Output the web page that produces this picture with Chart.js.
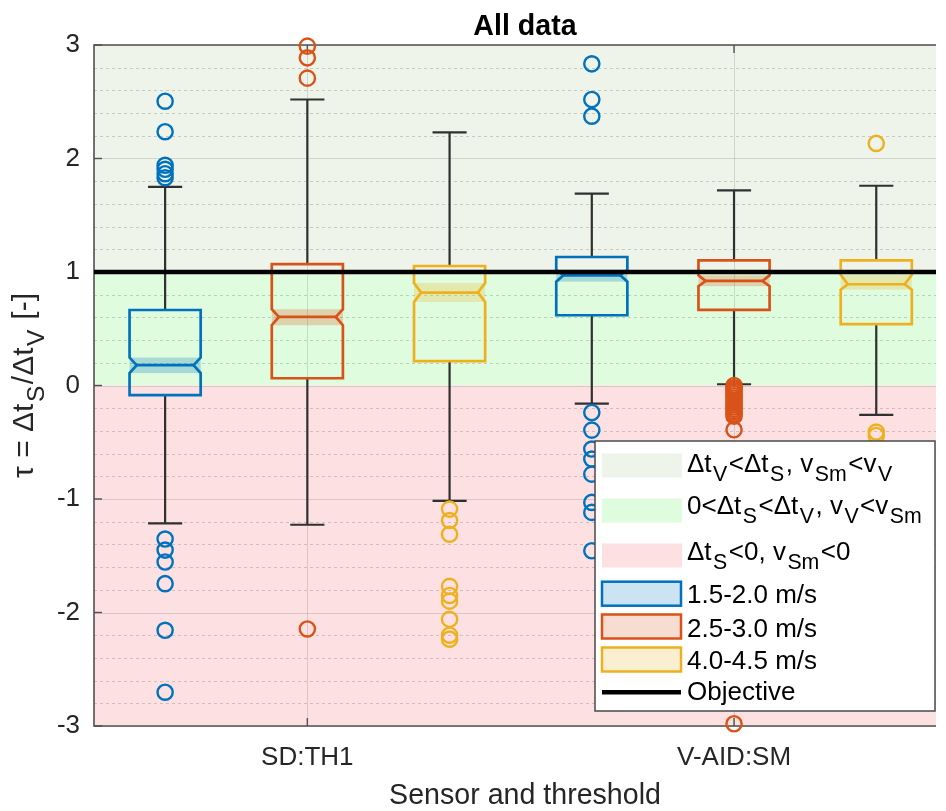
<!DOCTYPE html>
<html>
<head>
<meta charset="utf-8">
<style>
  html, body { margin: 0; padding: 0; background: #fff; }
  canvas { display: block; }
</style>
<script src="https://cdn.jsdelivr.net/npm/chart.js@4.4.1/dist/chart.umd.min.js"></script>
</head>
<body>
<canvas id="chart" width="946" height="811"></canvas>
<script>
// ---- data ----
const CATEGORIES = ['SD:TH1', 'V-AID:SM'];
const SPEEDS = ['1.5-2.0 m/s', '2.5-3.0 m/s', '4.0-4.5 m/s'];

// one value per box: SD:TH1 (3 speeds), then V-AID:SM (3 speeds)
const WHISKER_HI = [1.75, 2.52, 2.23, 1.69, 1.72, 1.76];
const Q3         = [0.665, 1.07, 1.053, 1.132, 1.103, 1.103];
const NOTCH_HI   = [0.246, 0.672, 0.903, 1.02, 0.97, 0.975];
const MEDIAN     = [0.179, 0.604, 0.819, 0.971, 0.921, 0.892];
const NOTCH_LO   = [0.109, 0.531, 0.736, 0.915, 0.875, 0.845];
const Q1         = [-0.085, 0.064, 0.214, 0.619, 0.666, 0.54];
const WHISKER_LO = [-1.215, -1.227, -1.016, -0.16, 0.011, -0.259];

const OUT_SD_1 = [2.505, 2.236, 1.94, 1.905, 1.866, 1.831, -1.353, -1.45, -1.555, -1.746, -2.157, -2.702];
const OUT_SD_2 = [2.99, 2.887, 2.708, -2.145];
const OUT_SD_3 = [-1.089, -1.19, -1.31, -1.77, -1.85, -1.9, -2.06, -2.2, -2.235];
const OUT_VA_1 = [2.834, 2.52, 2.373, -0.238, -0.393, -0.56, -0.648, -0.781, -1.03, -1.118, -1.456];
const OUT_VA_2 = [0.0, -0.02, -0.03, -0.05, -0.07, -0.09, -0.11, -0.13, -0.15, -0.17, -0.19, -0.21, -0.23, -0.25, -0.27, -0.39, -2.98];
const OUT_VA_3 = [2.133, -0.41, -0.44];
const OUTLIERS = [OUT_SD_1, OUT_SD_2, OUT_SD_3, OUT_VA_1, OUT_VA_2, OUT_VA_3];

// shaded tau regions and the objective line
const REGION_LO = [1, 0, -3];
const REGION_HI = [3, 1, 0];
const OBJECTIVE = 1;

// ---- styling ----
const FONT = '"Liberation Sans", Arial, Helvetica, sans-serif';
const TEXT = '#262626';
const SPEED_COLORS = ['#0072BD', '#D95319', '#EDB120'];
const REGION_COLORS = ['#eef4e9', '#dffcdf', '#fde1e2'];
const X_MIN = 0.5, X_MAX = 6.42;
const BOX_HALF = 0.25, CAP_HALF = 0.12, NOTCH_INSET = 0.2;

Chart.defaults.font.family = FONT;

// box i sits at x = category * 3 + speed + 1
const boxX = i => i + 1;
const catX = c => c * 3 + 2;
const TICK_POS = CATEGORIES.map((_, c) => catX(c));

function rgba(hex, a) {
  const n = parseInt(hex.slice(1), 16);
  return `rgba(${n >> 16},${(n >> 8) & 255},${n & 255},${a})`;
}

// text with subscripts: parts = [[text, isSub], ...]
const SUB_SCALE = 0.82, SUB_DROP = 0.36, SUB_GAP = 1.5;
function richWidth(ctx, parts, size) {
  let w = 0;
  parts.forEach(([t, sub]) => {
    ctx.font = `${sub ? size * SUB_SCALE : size}px ${FONT}`;
    w += ctx.measureText(t).width + (sub ? 2 * SUB_GAP : 0);
  });
  return w;
}
function drawRich(ctx, parts, x, y, size) {
  ctx.textAlign = 'left';
  ctx.textBaseline = 'alphabetic';
  parts.forEach(([t, sub]) => {
    ctx.font = `${sub ? size * SUB_SCALE : size}px ${FONT}`;
    if (sub) x += SUB_GAP;
    ctx.fillText(t, x, sub ? y + size * SUB_DROP : y);
    x += ctx.measureText(t).width + (sub ? SUB_GAP : 0);
  });
}

const matlabLook = {
  id: 'matlabLook',
  beforeDraw(chart) {
    const { ctx, chartArea: a, scales: { y } } = chart;
    ctx.save();
    REGION_LO.forEach((lo, i) => {
      const top = y.getPixelForValue(REGION_HI[i]);
      const bot = y.getPixelForValue(lo);
      ctx.fillStyle = REGION_COLORS[i];
      ctx.fillRect(a.left, top, a.right - a.left, bot - top);
    });
    ctx.restore();
  },
  beforeDatasetsDraw(chart) {
    const { ctx, chartArea: a, scales: { x, y } } = chart;
    ctx.save();
    // minor grid
    ctx.strokeStyle = 'rgba(38,38,38,0.2)';
    ctx.lineWidth = 1;
    ctx.setLineDash([3, 3]);
    for (let k = 1; k < 30; k++) {
      if (k % 5 === 0) continue;
      const py = Math.round(y.getPixelForValue(y.min + k * 0.2)) + 0.5;
      ctx.beginPath(); ctx.moveTo(a.left, py); ctx.lineTo(a.right, py); ctx.stroke();
    }
    ctx.setLineDash([]);
    // major grid
    ctx.strokeStyle = 'rgba(38,38,38,0.15)';
    y.ticks.forEach(t => {
      const py = Math.round(y.getPixelForValue(t.value)) + 0.5;
      ctx.beginPath(); ctx.moveTo(a.left, py); ctx.lineTo(a.right, py); ctx.stroke();
    });
    x.ticks.forEach(t => {
      const px = Math.round(x.getPixelForValue(t.value)) + 0.5;
      ctx.beginPath(); ctx.moveTo(px, a.top); ctx.lineTo(px, a.bottom); ctx.stroke();
    });
    // axes lines + inward ticks
    ctx.strokeStyle = '#505050';
    ctx.lineWidth = 1.6;
    ctx.beginPath();
    ctx.moveTo(a.right, a.top); ctx.lineTo(a.left, a.top);
    ctx.lineTo(a.left, a.bottom); ctx.lineTo(a.right, a.bottom);
    ctx.stroke();
    ctx.lineWidth = 1.4;
    y.ticks.forEach(t => {
      const py = y.getPixelForValue(t.value);
      ctx.beginPath(); ctx.moveTo(a.left, py); ctx.lineTo(a.left + 8, py); ctx.stroke();
    });
    x.ticks.forEach(t => {
      const px = x.getPixelForValue(t.value);
      ctx.beginPath(); ctx.moveTo(px, a.bottom); ctx.lineTo(px, a.bottom - 8); ctx.stroke();
      ctx.beginPath(); ctx.moveTo(px, a.top); ctx.lineTo(px, a.top + 8); ctx.stroke();
    });

    // boxes
    MEDIAN.forEach((med, i) => {
      const color = SPEED_COLORS[i % 3];
      const cx = x.getPixelForValue(boxX(i));
      const hw = x.getPixelForValue(boxX(i) + BOX_HALF) - cx;
      const cw = x.getPixelForValue(boxX(i) + CAP_HALF) - cx;
      const L = cx - hw, R = cx + hw, ins = hw * NOTCH_INSET;
      const pq3 = y.getPixelForValue(Q3[i]), pq1 = y.getPixelForValue(Q1[i]);
      const pnh = y.getPixelForValue(NOTCH_HI[i]), pnl = y.getPixelForValue(NOTCH_LO[i]);
      const pm = y.getPixelForValue(med);
      const pwh = y.getPixelForValue(WHISKER_HI[i]), pwl = y.getPixelForValue(WHISKER_LO[i]);

      // whiskers
      ctx.strokeStyle = '#303030';
      ctx.lineWidth = 2.2;
      ctx.beginPath();
      ctx.moveTo(cx, pq3); ctx.lineTo(cx, pwh);
      ctx.moveTo(cx - cw, pwh); ctx.lineTo(cx + cw, pwh);
      ctx.moveTo(cx, pq1); ctx.lineTo(cx, pwl);
      ctx.moveTo(cx - cw, pwl); ctx.lineTo(cx + cw, pwl);
      ctx.stroke();

      // notch band
      ctx.fillStyle = rgba(color, 0.25);
      ctx.fillRect(L, pnh, R - L, pnl - pnh);

      // notched box outline
      ctx.strokeStyle = color;
      ctx.lineWidth = 2.7;
      ctx.lineJoin = 'miter';
      ctx.beginPath();
      ctx.moveTo(L, pq3); ctx.lineTo(R, pq3); ctx.lineTo(R, pnh);
      ctx.lineTo(R - ins, pm); ctx.lineTo(R, pnl); ctx.lineTo(R, pq1);
      ctx.lineTo(L, pq1); ctx.lineTo(L, pnl); ctx.lineTo(L + ins, pm);
      ctx.lineTo(L, pnh); ctx.closePath();
      ctx.stroke();
      // median
      ctx.beginPath(); ctx.moveTo(L + ins, pm); ctx.lineTo(R - ins, pm); ctx.stroke();
    });
    ctx.restore();
  },
  afterDraw(chart) {
    const { ctx, chartArea: a } = chart;
    ctx.save();
    const midX = 525;

    // title
    ctx.fillStyle = '#000';
    ctx.font = `bold 28.6px ${FONT}`;
    ctx.textAlign = 'center';
    ctx.textBaseline = 'alphabetic';
    ctx.fillText('All data', midX, 35);

    // x label
    ctx.fillStyle = TEXT;
    ctx.font = `28.6px ${FONT}`;
    ctx.fillText('Sensor and threshold', midX, 804);

    // y label
    const yParts = [['τ = Δt', 0], ['S', 1], ['/Δt', 0], ['V', 1], [' [-]', 0]];
    const ys = 30;
    const w = richWidth(ctx, yParts, ys);
    ctx.save();
    ctx.translate(33, (a.top + a.bottom) / 2);
    ctx.rotate(-Math.PI / 2);
    ctx.fillStyle = TEXT;
    drawRich(ctx, yParts, -w / 2, 0, ys);
    ctx.restore();

    // legend
    const LX = 595, LY = 441, LW = 340, LH = 270;
    ctx.fillStyle = '#fff';
    ctx.fillRect(LX, LY, LW, LH);
    ctx.strokeStyle = '#4a4a4a';
    ctx.lineWidth = 1.5;
    ctx.strokeRect(LX, LY, LW, LH);

    const sx = 602, sw = 80, tx = 687;
    const regionText = [
      [['Δt', 0], ['V', 1], ['<Δt', 0], ['S', 1], [', v', 0], ['Sm', 1], ['<v', 0], ['V', 1]],
      [['0<Δt', 0], ['S', 1], ['<Δt', 0], ['V', 1], [', v', 0], ['V', 1], ['<v', 0], ['Sm', 1]],
      [['Δt', 0], ['S', 1], ['<0, v', 0], ['Sm', 1], ['<0', 0]]
    ];
    const regionRowY = [465.5, 510.5, 555.5];
    const regionBase = [472, 514, 560];
    regionText.forEach((parts, i) => {
      ctx.fillStyle = REGION_COLORS[i];
      ctx.fillRect(sx, regionRowY[i] - 12, sw, 24);
      ctx.fillStyle = '#000';
      drawRich(ctx, parts, tx, regionBase[i], 26);
    });
    const speedRowY = [593.7, 626.5, 659.5];
    const speedBase = [603, 636.5, 669.3];
    SPEEDS.forEach((label, i) => {
      ctx.fillStyle = rgba(SPEED_COLORS[i], 0.2);
      ctx.fillRect(sx, speedRowY[i] - 12, sw - 1, 24);
      ctx.strokeStyle = SPEED_COLORS[i];
      ctx.lineWidth = 2.5;
      ctx.strokeRect(sx, speedRowY[i] - 12, sw - 1, 24);
      ctx.fillStyle = '#000';
      drawRich(ctx, [[label, 0]], tx, speedBase[i], 26);
    });
    ctx.strokeStyle = '#000';
    ctx.lineWidth = 4.5;
    ctx.beginPath(); ctx.moveTo(sx, 692.3); ctx.lineTo(sx + 79, 692.3); ctx.stroke();
    ctx.fillStyle = '#000';
    drawRich(ctx, [['Objective', 0]], tx, 699.5, 26);
    ctx.restore();
  }
};

const datasets = [{
  type: 'line',
  data: [{ x: X_MIN, y: OBJECTIVE }, { x: X_MAX, y: OBJECTIVE }],
  borderColor: '#000',
  borderWidth: 4.5,
  pointRadius: 0,
  clip: false
}];
OUTLIERS.forEach((vals, i) => {
  datasets.push({
    data: vals.map(v => ({ x: boxX(i), y: v })),
    borderColor: SPEED_COLORS[i % 3],
    backgroundColor: 'rgba(0,0,0,0)',
    pointStyle: 'circle',
    pointRadius: 7.6,
    pointBorderWidth: 2.4,
    showLine: false,
    clip: false
  });
});

new Chart(document.getElementById('chart'), {
  type: 'scatter',
  data: { datasets },
  options: {
    responsive: false,
    animation: false,
    devicePixelRatio: 1,
    events: [],
    layout: { padding: { top: 45, left: 0, right: 0, bottom: 0 } },
    plugins: {
      legend: { display: false },
      title: { display: false },
      tooltip: { enabled: false }
    },
    scales: {
      x: {
        type: 'linear',
        min: X_MIN,
        max: X_MAX,
        afterFit: s => { s.height = 85; },
        afterBuildTicks: s => { s.ticks = TICK_POS.map(v => ({ value: v })); },
        grid: { display: false, drawTicks: false },
        border: { display: false },
        ticks: {
          callback: v => CATEGORIES[TICK_POS.indexOf(v)],
          font: { size: 26 },
          color: TEXT,
          padding: 16,
          maxRotation: 0,
          autoSkip: false
        }
      },
      y: {
        min: -3,
        max: 3,
        afterFit: s => { s.width = 94; },
        grid: { display: false, drawTicks: false },
        border: { display: false },
        ticks: { stepSize: 1, font: { size: 26 }, color: TEXT, padding: 14 }
      }
    }
  },
  plugins: [matlabLook]
});
</script>
</body>
</html>
